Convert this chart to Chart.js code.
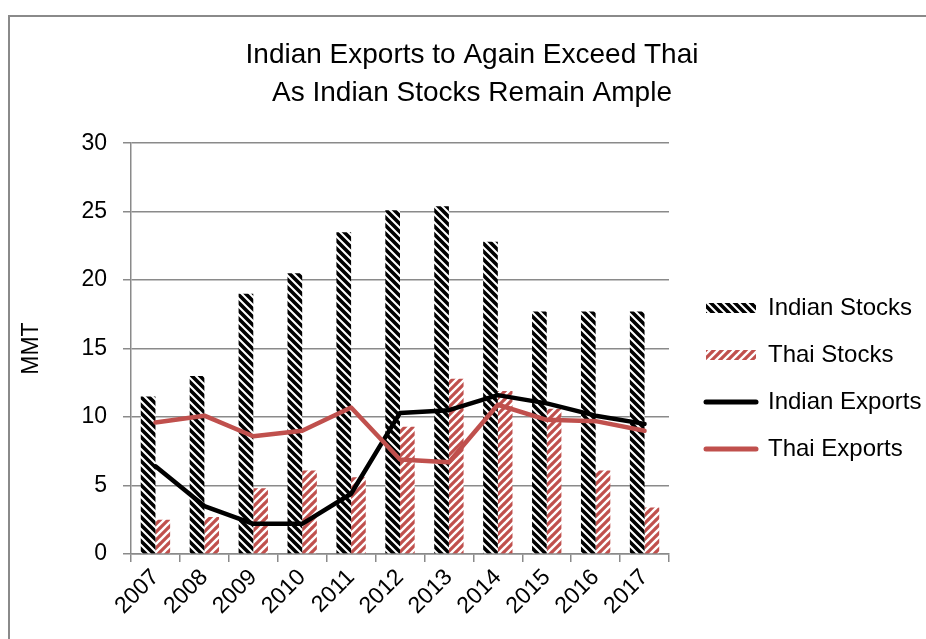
<!DOCTYPE html>
<html><head><meta charset="utf-8">
<script src="https://cdn.jsdelivr.net/npm/chart.js@4.4.1/dist/chart.umd.min.js"></script>
<style>html,body{margin:0;padding:0;background:#fff;}canvas{display:block;}</style>
</head><body>
<canvas id="c" width="926" height="639"></canvas>
<script>
const years = ['2007','2008','2009','2010','2011','2012','2013','2014','2015','2016','2017'];
const indianStocks  = [11.5, 13.0, 19.0, 20.5, 23.5, 25.1, 25.4, 22.8, 17.7, 17.7, 17.7];
const thaiStocks    = [2.5, 2.7, 4.8, 6.1, 5.6, 9.3, 12.8, 11.9, 10.6, 6.1, 3.4];
const indianExports = [6.4, 3.5, 2.2, 2.2, 4.4, 10.3, 10.5, 11.6, 11.0, 10.1, 9.5];
const thaiExports   = [9.6, 10.1, 8.6, 9.0, 10.7, 6.9, 6.7, 10.9, 9.8, 9.7, 9.0];
const yTicks = [0, 5, 10, 15, 20, 25, 30];
const titleLines = ['Indian Exports to Again Exceed Thai', 'As Indian Stocks Remain Ample'];

const RED = '#C0504D';
const GRID = '#8a8a8a';
const canvas = document.getElementById('c');
const ctx = canvas.getContext('2d');

function hatch(color, dir, size, lw) {
  const t = document.createElement('canvas');
  t.width = size; t.height = size;
  const g = t.getContext('2d');
  g.fillStyle = '#fff'; g.fillRect(0, 0, size, size);
  g.strokeStyle = color; g.lineWidth = lw; g.lineCap = 'square';
  g.beginPath();
  for (let k = -1; k <= 1; k++) {
    if (dir === 'down') { g.moveTo(k * size, 0); g.lineTo(k * size + size, size); }
    else { g.moveTo(k * size, size); g.lineTo(k * size + size, 0); }
  }
  g.stroke();
  return ctx.createPattern(t, 'repeat');
}
const indianPattern = hatch('#000', 'down', 8, 3.6);
const thaiPattern = hatch(RED, 'up', 8, 3.2);

Chart.defaults.font.family = '"Liberation Sans", Arial, sans-serif';
Chart.defaults.color = '#000';

const framePlugin = {
  id: 'frame',
  beforeDraw(chart) {
    const c = chart.ctx;
    c.save();
    c.fillStyle = '#fff';
    c.fillRect(0, 0, chart.width, chart.height);
    c.strokeStyle = '#8a8a8a';
    c.lineWidth = 2;
    c.beginPath();
    c.moveTo(9, chart.height); c.lineTo(9, 16); c.lineTo(chart.width, 16);
    c.stroke();
    c.restore();
  }
};

const legendPlugin = {
  id: 'legendTweak',
  afterInit(chart) {
    const L = chart.legend;
    if (!L || L._tweaked) return;
    L._tweaked = true;
    const fit = L.fit;
    L.fit = function () { fit.call(this); this.width = 257; };
    const draw = L.draw;
    L.draw = function (a) {
      this.left += 14; this.top += 273;
      draw.call(this, a);
      this.left -= 14; this.top -= 273;
    };
  }
};

new Chart(ctx, {
  data: {
    labels: years,
    datasets: [
      { type: 'bar', label: 'Indian Stocks', data: indianStocks, backgroundColor: indianPattern, borderWidth: 0, order: 2,
        categoryPercentage: 0.6, barPercentage: 1.0 },
      { type: 'bar', label: 'Thai Stocks', data: thaiStocks, backgroundColor: thaiPattern, borderWidth: 0, order: 2,
        categoryPercentage: 0.6, barPercentage: 1.0 },
      { type: 'line', label: 'Indian Exports', data: indianExports, borderColor: '#000', backgroundColor: '#000',
        borderWidth: 4.5, pointRadius: 0, tension: 0, borderCapStyle: 'round', borderJoinStyle: 'round', order: 1, pointStyle: 'line' },
      { type: 'line', label: 'Thai Exports', data: thaiExports, borderColor: RED, backgroundColor: RED,
        borderWidth: 4.5, pointRadius: 0, tension: 0, borderCapStyle: 'round', borderJoinStyle: 'round', order: 0, pointStyle: 'line' }
    ]
  },
  options: {
    responsive: false,
    animation: false,
    devicePixelRatio: 1,
    layout: { padding: { left: 18, right: 0, top: 0, bottom: 0 } },
    plugins: {
      tooltip: { enabled: false },
      title: {
        display: true, text: titleLines, color: '#000',
        font: { size: 28, weight: 'normal', lineHeight: 1.36 },
        padding: { top: 36, bottom: 31 }
      },
      legend: {
        position: 'right', align: 'start',
        labels: {
          usePointStyle: true, pointStyleWidth: 50, boxHeight: 10, padding: 23,
          font: { size: 24 }, color: '#000',
          sort: (a, b) => a.datasetIndex - b.datasetIndex,
          generateLabels(chart) {
            const items = Chart.defaults.plugins.legend.labels.generateLabels(chart);
            items.forEach(it => {
              const ds = chart.data.datasets[it.datasetIndex];
              if (ds.type === 'bar') { it.pointStyle = 'rect'; it.lineWidth = 0; }
              else { it.pointStyle = 'line'; it.lineWidth = 5; it.lineCap = 'round'; }
            });
            return items;
          }
        }
      }
    },
    scales: {
      x: {
        grid: { display: true, drawOnChartArea: false, drawTicks: true, tickLength: 8, color: GRID, lineWidth: 1.5, offset: true },
        border: { color: GRID, width: 1.5 },
        ticks: { font: { size: 23 }, color: '#000', minRotation: 45, maxRotation: 45, autoSkip: false, padding: 2 },
        afterFit(s) { s.height = 85; }
      },
      y: {
        min: 0, max: 30,
        afterBuildTicks(s) { s.ticks = yTicks.map(v => ({ value: v })); },
        grid: { color: GRID, lineWidth: 1.5, tickLength: 8 },
        border: { color: GRID, width: 1.5 },
        ticks: { font: { size: 23 }, color: '#000', padding: 16 },
        title: { display: true, text: 'MMT', font: { size: 23 }, color: '#000', padding: 0 },
        afterFit(s) { s.width = 113; }
      }
    }
  },
  plugins: [framePlugin, legendPlugin]
});
</script>
</body></html>
